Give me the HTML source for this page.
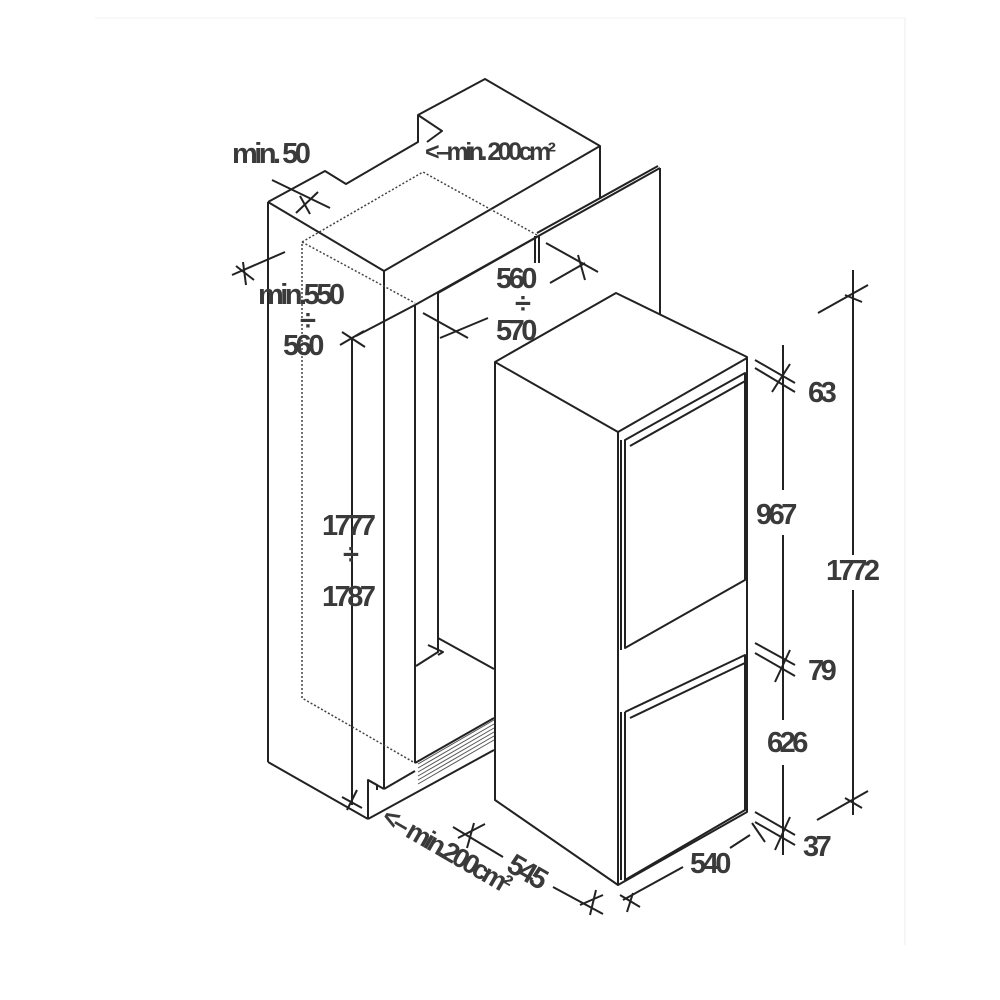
<!DOCTYPE html>
<html><head><meta charset="utf-8"><style>
html,body{margin:0;padding:0;background:#fff;}
svg{display:block}
text{font-family:"Liberation Sans",sans-serif;font-size:29px;font-weight:bold;fill:#3a3a3a;letter-spacing:-3.5px;}
</style></head><body>
<svg width="1000" height="1000" viewBox="0 0 1000 1000">
<rect x="0" y="0" width="1000" height="1000" fill="#fff"/>
<line x1="905" y1="18" x2="905" y2="945" stroke="#eee" stroke-width="1"/>
<line x1="95" y1="18" x2="905" y2="18" stroke="#f2f2f2" stroke-width="1"/>
<g stroke="#222" stroke-width="2" fill="none" stroke-linejoin="round">
<polyline points="268,202 325,171 346,184 418,142 418,115 485,79 600,146 600,198"/>
<polyline points="418,115 442,131 427,142"/>
<line x1="268" y1="202" x2="384" y2="271"/>
<line x1="384" y1="271" x2="600" y2="146"/>
<line x1="268" y1="202" x2="268" y2="762"/>
<line x1="268" y1="762" x2="368" y2="819"/>
<line x1="384" y1="271" x2="384" y2="789"/>
<line x1="415" y1="305" x2="660" y2="168"/>
<line x1="438" y1="293" x2="537" y2="237"/>
<line x1="537" y1="233" x2="658" y2="166"/>
<line x1="660" y1="168" x2="660" y2="318"/>
<line x1="415" y1="305" x2="415" y2="763"/>
<line x1="438" y1="293" x2="438" y2="638"/>
<line x1="535" y1="236" x2="535" y2="263"/><line x1="539" y1="236" x2="539" y2="263"/>
<polyline points="416,666 438,652 438,638 494,669"/>
<polyline points="428,645 443,652 438,655"/>
<line x1="415" y1="763" x2="494" y2="718"/>
<line x1="384" y1="789" x2="415" y2="771"/>
<line x1="368" y1="819" x2="494" y2="750"/>
<polyline points="368,819 368,780 377,785 377,790"/>
<line x1="368" y1="780" x2="384" y2="789"/>
<line x1="352" y1="338" x2="352" y2="805"/>
<line x1="342" y1="332" x2="365" y2="347"/><line x1="340" y1="345" x2="364" y2="331"/>
<line x1="342" y1="797" x2="362" y2="808"/><line x1="347" y1="810" x2="357" y2="790"/>
<line x1="272" y1="180" x2="330" y2="208"/><line x1="296" y1="213" x2="318" y2="192"/><line x1="300" y1="196" x2="310" y2="214"/>
<line x1="232" y1="275" x2="285" y2="252"/><line x1="236" y1="266" x2="254" y2="280"/><line x1="243" y1="262" x2="246" y2="285"/>
<line x1="356" y1="336" x2="415" y2="305"/>
<line x1="423" y1="313" x2="468" y2="338"/><line x1="440" y1="338" x2="488" y2="318"/>
<line x1="546" y1="243" x2="598" y2="272"/><line x1="550" y1="283" x2="585" y2="263"/><line x1="578" y1="255" x2="585" y2="280"/>
</g>
<g stroke="#444" stroke-width="1.5" stroke-dasharray="2,2" fill="none">
<polyline points="537,235 423,172 302,242 302,698 415,763"/>
<line x1="302" y1="242" x2="415" y2="303"/>
</g>
<g stroke="#555" stroke-width="1">
<line x1="418" y1="772" x2="494" y2="728"/><line x1="418" y1="776" x2="494" y2="732"/>
<line x1="418" y1="780" x2="494" y2="736"/><line x1="418" y1="768" x2="494" y2="724"/>
<line x1="418" y1="784" x2="494" y2="740"/><line x1="418" y1="764" x2="494" y2="720"/>
</g>
<g stroke="#222" stroke-width="2" fill="#fff" stroke-linejoin="round">
<polygon points="495,362 616,293 747,357 747,812 618,885 495,800"/>
<line x1="495" y1="362" x2="618" y2="432"/>
<line x1="618" y1="432" x2="747" y2="358"/>
<line x1="618" y1="432" x2="618" y2="885"/>
<polyline points="625,447 625,648 745,580 745,373 625,440 625,447"/>
<line x1="630" y1="446" x2="747" y2="380"/>
<polyline points="625,712 625,880 745,810 745,655 625,712"/>
<line x1="630" y1="718" x2="747" y2="662"/>
<polyline points="621,440 621,650"/><polyline points="621,712 621,880"/>
</g>
<g stroke="#222" stroke-width="2" fill="none">
<line x1="783" y1="345" x2="783" y2="490"/><line x1="783" y1="535" x2="783" y2="720"/><line x1="783" y1="765" x2="783" y2="855"/>
<line x1="755" y1="360" x2="795" y2="383"/><line x1="755" y1="368" x2="795" y2="392"/>
<line x1="772" y1="392" x2="790" y2="364"/>
<line x1="755" y1="643" x2="795" y2="665"/><line x1="755" y1="653" x2="795" y2="676"/>
<line x1="775" y1="682" x2="790" y2="650"/>
<line x1="755" y1="812" x2="795" y2="835"/><line x1="755" y1="822" x2="795" y2="845"/>
<line x1="775" y1="850" x2="790" y2="817"/>
<line x1="853" y1="270" x2="853" y2="555"/><line x1="853" y1="590" x2="853" y2="815"/>
<line x1="818" y1="313" x2="868" y2="285"/><line x1="845" y1="295" x2="862" y2="302"/>
<line x1="817" y1="820" x2="868" y2="791"/><line x1="845" y1="798" x2="862" y2="808"/>
<line x1="453" y1="827" x2="503" y2="857"/><line x1="458" y1="838" x2="485" y2="824"/><line x1="467" y1="848" x2="474" y2="823"/>
<line x1="553" y1="887" x2="603" y2="914"/><line x1="580" y1="905" x2="603" y2="895"/><line x1="590" y1="915" x2="596" y2="890"/>
<line x1="623" y1="900" x2="683" y2="867"/><line x1="620" y1="895" x2="640" y2="907"/><line x1="627" y1="912" x2="633" y2="893"/>
<line x1="730" y1="848" x2="750" y2="835"/><line x1="752" y1="823" x2="765" y2="842"/>
</g>
<text x="232" y="163">min. 50</text>
<text x="425" y="160" style="font-size:25px">&lt;–min. 200cm²</text>
<text x="258" y="304">min.550</text>
<text x="300" y="330">÷</text>
<text x="283" y="355">560</text>
<text x="496" y="288">560</text>
<text x="515" y="313">÷</text>
<text x="496" y="340">570</text>
<text x="322" y="535">1777</text>
<text x="343" y="564">÷</text>
<text x="322" y="606">1787</text>
<text x="808" y="402">63</text>
<text x="756" y="524">967</text>
<text x="808" y="680">79</text>
<text x="767" y="752">626</text>
<text x="803" y="856">37</text>
<text x="826" y="580">1772</text>
<text x="690" y="873">540</text>
<text transform="translate(505,870) rotate(30)">545</text>
<text transform="translate(380,822) rotate(30)" style="font-size:27px">&lt;– min.200cm²</text>
</svg>
</body></html>
